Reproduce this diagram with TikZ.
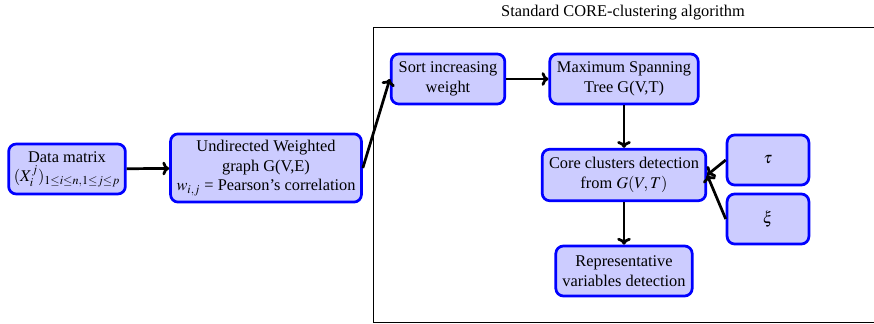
\documentclass[tikz,border=0pt]{standalone}
\usepackage{mathptmx}
\usepackage[no-math]{fontspec}
\setmainfont{Liberation Serif}
\usetikzlibrary{arrows.meta}
\tikzset{
  stage/.style={draw=blue, line width=1.8pt, fill=blue!20, rounded corners=5pt,
    align=center, inner sep=2pt, font=\fontsize{10.8pt}{13pt}\selectfont},
  flow/.style={-{To[length=4.5pt,width=9pt]}, line width=1.8pt}
}
\begin{document}
\begin{tikzpicture}[x=0.66pt, y=-0.66pt]
  \useasboundingbox (0,0) rectangle (874,324);
  % frame of the standard algorithm
  \draw[line width=0.5pt] (373,27) rectangle (900,322);
  \node[font=\fontsize{10.8pt}{13pt}\selectfont] (title) at (623,13)
    {Standard CORE-clustering algorithm};
  % stages
  \node[stage, minimum width=77pt, minimum height=33pt] (data) at (67,169)
    {Data matrix\\ $(X_i^j)_{1\leq i\leq n,1\leq j\leq p}$};
  \node[stage, minimum width=126pt, minimum height=45pt] (graph) at (266,168)
    {Undirected Weighted\\ graph G(V,E)\\ $w_{i,j}$ = Pearson’s correlation};
  \node[stage, minimum width=75pt, minimum height=33pt] (sort) at (448,79)
    {Sort increasing\\ weight};
  \node[stage, minimum width=98pt, minimum height=33pt] (mst) at (624,79)
    {Maximum Spanning\\ Tree G(V,T)};
  \node[stage, minimum width=108pt, minimum height=34pt] (core) at (624,175)
    {Core clusters detection\\ from $G(V,T)$};
  \node[stage, minimum width=90pt, minimum height=33pt] (repr) at (624,271)
    {Representative\\ variables detection};
  % parameters
  \node[stage, minimum width=54pt, minimum height=33pt] (tau) at (768,160) {$\tau$};
  \node[stage, minimum width=54pt, minimum height=33pt] (xi) at (768,219) {$\xi$};
  % edges
  \draw[flow] (data) -- (graph);
  \draw[flow] (graph.east) -- (sort.west);
  \draw[flow] (sort) -- (mst);
  \draw[flow] (mst) -- (core);
  \draw[flow] (core) -- (repr);
  \draw[flow] (tau.west) -- (core.east);
  \draw[flow] (xi.west) -- (core.east);
\end{tikzpicture}
\end{document}
